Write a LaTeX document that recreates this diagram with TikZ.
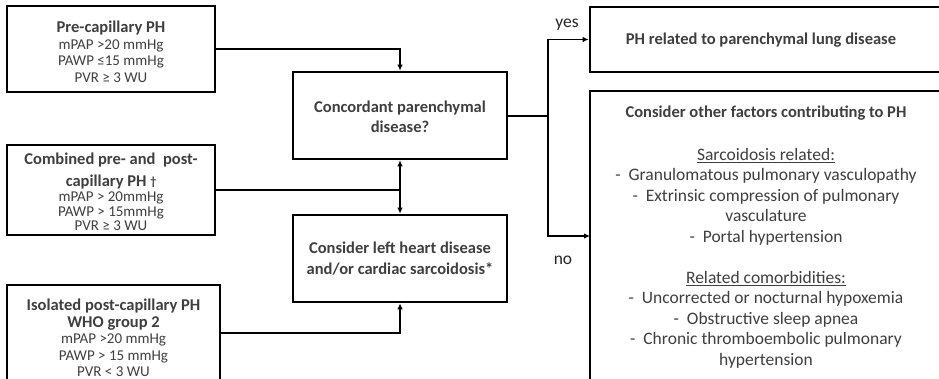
\documentclass[tikz,border=0pt]{standalone}
\usepackage{fontspec}
\setmainfont{Carlito}
\usetikzlibrary{arrows.meta}
\definecolor{txt}{HTML}{3F3F3F}

\newcommand{\ttlfont}{\fontsize{16.5}{20}\selectfont\bfseries}

\tikzset{
  box/.style={draw=black, fill=white, line width=2.6pt, inner sep=0pt},
  lbl/.style={text=txt, align=center, inner sep=0pt},
  conn/.style={draw=black, line width=1.3pt},
  arr/.style={conn, -{Latex[length=6pt,width=5.5pt]}},
  darr/.style={conn, {Latex[length=6pt,width=5.5pt]}-{Latex[length=6pt,width=5.5pt]}},
  ttl/.style={font=\ttlfont},
  small/.style={font=\fontsize{15}{16.5}\selectfont},
  big/.style={font=\fontsize{17.5}{20.5}\selectfont},
}

\begin{document}
\begin{tikzpicture}[x=1pt,y=-1pt]
\clip (0,0) rectangle (939,379);
\fill[white] (0,0) rectangle (939,379);

% left column: haemodynamic definitions
\node[box, minimum width=208pt, minimum height=86pt] (b1) at (111,49) {};
\node[lbl, small] at (111,52) {{\ttlfont Pre-capillary PH}\\[0pt]mPAP >20 mmHg\\PAWP ≤15 mmHg\\PVR ≥ 3 WU};

\node[box, minimum width=208pt, minimum height=90pt] (b2) at (111,190) {};
\node[lbl, small] at (111,192) {{\ttlfont Combined pre- and \ post-}\\[5pt]{\ttlfont capillary PH \raisebox{1pt}{\fontsize{12}{12}\selectfont †}}\\[-1pt]mPAP > 20mmHg\\[-2pt]PAWP > 15mmHg\\[-2pt]PVR ≥ 3 WU};

\node[box, minimum width=213pt, minimum height=108pt] (b3) at (113.5,339) {};
\node[lbl, small] at (113.5,338) {{\ttlfont Isolated post-capillary PH}\\[0pt]{\ttlfont WHO group 2}\\[0pt]mPAP >20 mmHg\\PAWP > 15 mmHg\\PVR < 3 WU};

% middle column: decision boxes
\node[box, minimum width=214pt, minimum height=87pt] (conc) at (400,115.5) {};
\node[lbl, ttl] at (400,117) {Concordant parenchymal\\disease?};

\node[box, minimum width=214pt, minimum height=87pt] (cons) at (400,258.5) {};
\node[lbl, ttl] at (400,259) {Consider left heart disease\\[1pt]and/or cardiac sarcoidosis*};

% right column: outcomes
\node[box, minimum width=360pt, minimum height=65pt] (yesbox) at (770,39.5) {};
\node[lbl, ttl] at (761,40) {PH related to parenchymal lung disease};

\node[box, minimum width=360pt, minimum height=309pt] (nobox) at (770,245.5) {};
\node[lbl, big, anchor=north] at (766,106) {{\ttlfont Consider other factors contributing to PH}\\[22pt]
\underline{Sarcoidosis related:}\\
-\ \ Granulomatous pulmonary vasculopathy\\
-\ \ Extrinsic compression of pulmonary\\
vasculature\\
-\ \ Portal hypertension\\[20.5pt]
\underline{Related comorbidities:}\\
-\ \ Uncorrected or nocturnal hypoxemia\\
-\ \ Obstructive sleep apnea\\
-\ \ Chronic thromboembolic pulmonary\\
hypertension};

% connectors
\coordinate (j3) at (399,333);
\coordinate (split) at (548,116);
\coordinate (noin) at (590,236);

\draw[arr] (b1.east) -| (conc.north);
\draw[conn] (b2.east) -- (b2.east -| conc.south);
\draw[darr] (conc.south) -- (cons.north);
\draw[arr] (b3.east |- j3) -| (cons.south);
\draw[conn] (conc.east |- split) -- (split);
\draw[arr] (split) |- (yesbox.west);
\draw[arr] (split) |- (noin);

\node[lbl, big, text=black!85] (yes) at (567,25) {yes};
\node[lbl, big, text=black!85] (no) at (563,260) {no};
\end{tikzpicture}
\end{document}
